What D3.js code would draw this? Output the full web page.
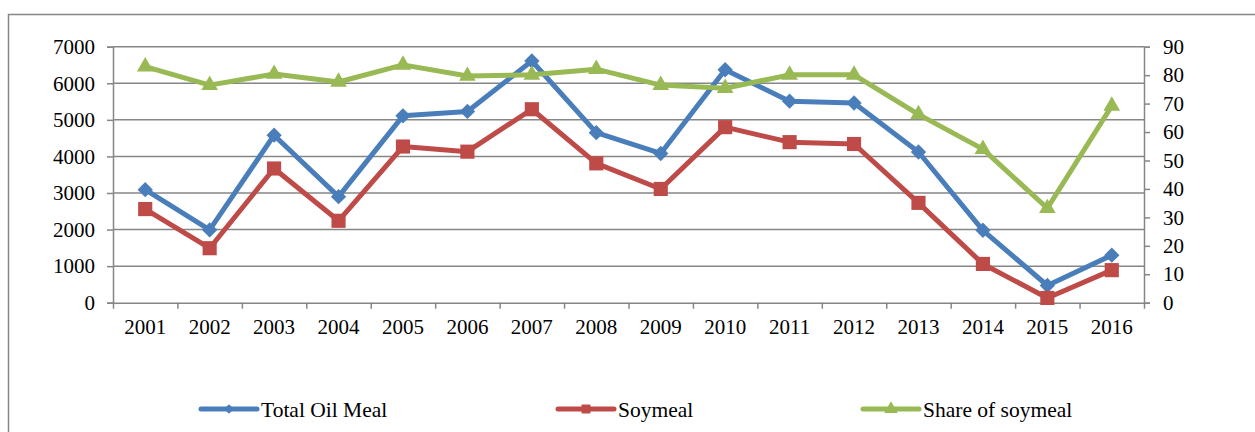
<!DOCTYPE html>
<html>
<head>
    <script src="https://cdn.jsdelivr.net/npm/d3@7"></script>
</head>
<body style="margin:0; background:white">
<div id="chart"></div>

<script>

    var years = ['2001', '2002', '2003', '2004', '2005', '2006', '2007', '2008',
                 '2009', '2010', '2011', '2012', '2013', '2014', '2015', '2016'];

    var totalOilMeal = [3090, 1990, 4580, 2900, 5110, 5230, 6610, 4650,
                        4080, 6370, 5510, 5460, 4120, 1980, 470, 1300];

    var soymeal = [2560, 1490, 3670, 2240, 4270, 4130, 5290, 3810,
                   3110, 4800, 4390, 4340, 2730, 1060, 130, 890];

    var shareSoymeal = [83.0, 76.5, 80.4, 77.6, 83.6, 79.7, 80.1, 82.1,
                        76.5, 75.4, 80.1, 80.1, 66.2, 54.0, 33.2, 69.2];

    var leftTicks = [0, 1000, 2000, 3000, 4000, 5000, 6000, 7000];
    var rightTicks = [0, 10, 20, 30, 40, 50, 60, 70, 80, 90];

    var series = [
        { name: 'Total Oil Meal', values: totalOilMeal, axis: 'left', color: '#4A7EBB', marker: 'diamond' },
        { name: 'Soymeal', values: soymeal, axis: 'left', color: '#BE4B48', marker: 'square' },
        { name: 'Share of soymeal', values: shareSoymeal, axis: 'right', color: '#98B954', marker: 'triangle' }
    ];

    var width = 1255, height = 432;
    var padding = { top: 46.7, left: 113, right: 1144, bottom: 302.7 };
    var serif = 'Liberation Serif';
    var gray = '#868686';

    var svg = d3.select('#chart').append('svg')
        .attr('width', width)
        .attr('height', height);

    // outer chart border
    svg.append('rect')
        .attr('x', 8.5).attr('y', 14.5)
        .attr('width', 1260).attr('height', 430)
        .attr('fill', 'none')
        .attr('stroke', gray)
        .attr('stroke-width', 1.5);

    var xScale = d3.scaleBand()
        .domain(years)
        .range([padding.left, padding.right])
        .padding(0);

    var xBound = d3.scaleLinear()
        .domain([0, years.length])
        .range([padding.left, padding.right]);

    var yLeft = d3.scaleLinear()
        .domain([0, 7000])
        .range([padding.bottom, padding.top]);

    var yRight = d3.scaleLinear()
        .domain([0, 90])
        .range([padding.bottom, padding.top]);

    // gridlines
    svg.append('g')
        .selectAll('line')
        .data(leftTicks.slice(1))
        .enter()
        .append('line')
        .attr('x1', padding.left).attr('x2', padding.right)
        .attr('y1', function(d) { return yLeft(d); })
        .attr('y2', function(d) { return yLeft(d); })
        .attr('stroke', gray)
        .attr('stroke-width', 1.5);

    function styleAxis(g) {
        g.attr('font-family', serif).attr('font-size', 21);
        g.selectAll('path, line').attr('stroke', gray).attr('stroke-width', 1.5);
        g.selectAll('text')
            .attr('font-family', serif)
            .attr('font-size', 21)
            .attr('fill', '#000');
    }

    // left axis
    svg.append('g')
        .attr('transform', 'translate(' + padding.left + ',0)')
        .call(d3.axisLeft(yLeft).tickValues(leftTicks).tickSizeOuter(0).tickSize(6).tickPadding(12).tickFormat(d3.format('d')))
        .call(styleAxis);

    // right axis
    svg.append('g')
        .attr('transform', 'translate(' + padding.right + ',0)')
        .call(d3.axisRight(yRight).tickValues(rightTicks).tickSizeOuter(0).tickSize(6).tickPadding(13))
        .call(styleAxis);

    // bottom axis: boundary ticks + labels
    svg.append('g')
        .attr('transform', 'translate(0,' + padding.bottom + ')')
        .call(d3.axisBottom(xBound).tickValues(d3.range(years.length + 1)).tickSize(6).tickSizeOuter(0).tickFormat(''))
        .call(styleAxis);

    var xLabels = svg.append('g')
        .attr('transform', 'translate(0,' + padding.bottom + ')')
        .call(d3.axisBottom(xScale).tickSize(0).tickPadding(16))
        .call(styleAxis);
    xLabels.select('.domain').remove();

    function markerPath(type, size) {
        if (type === 'diamond') return d3.symbol().type(d3.symbolDiamond2).size(size)();
        if (type === 'square') return d3.symbol().type(d3.symbolSquare).size(size)();
        return d3.symbol().type(d3.symbolTriangle).size(size)();
    }

    var markerSize = { diamond: 150, square: 200, triangle: 120 };

    series.forEach(function(s) {
        var yScale = s.axis === 'left' ? yLeft : yRight;
        var line = d3.line()
            .x(function(d, i) { return xScale(years[i]) + xScale.bandwidth() / 2; })
            .y(function(d) { return yScale(d); });

        svg.append('path')
            .datum(s.values)
            .attr('d', line)
            .attr('fill', 'none')
            .attr('stroke', s.color)
            .attr('stroke-width', 5)
            .attr('stroke-linejoin', 'round');

        svg.append('g')
            .selectAll('path')
            .data(s.values)
            .enter()
            .append('path')
            .attr('d', markerPath(s.marker, markerSize[s.marker]))
            .attr('fill', s.color)
            .attr('transform', function(d, i) {
                return 'translate(' + (xScale(years[i]) + xScale.bandwidth() / 2) + ',' + yScale(d) + ')';
            });
    });

    // legend
    var legendX = [201, 558, 863];
    var legend = svg.append('g')
        .selectAll('g')
        .data(series)
        .enter()
        .append('g')
        .attr('transform', function(d, i) { return 'translate(' + legendX[i] + ',409)'; });

    legend.append('line')
        .attr('x1', 0).attr('x2', 56)
        .attr('y1', 0).attr('y2', 0)
        .attr('stroke', function(d) { return d.color; })
        .attr('stroke-width', 5)
        .attr('stroke-linecap', 'round');

    legend.append('path')
        .attr('d', function(d) { return markerPath(d.marker, d.marker === 'diamond' ? 60 : 80); })
        .attr('fill', function(d) { return d.color; })
        .attr('transform', 'translate(28,0)');

    legend.append('text')
        .attr('x', 60)
        .attr('y', 8)
        .attr('font-family', serif)
        .attr('font-size', 21.5)
        .attr('fill', '#000')
        .text(function(d) { return d.name; });

</script>
</body>
</html>
